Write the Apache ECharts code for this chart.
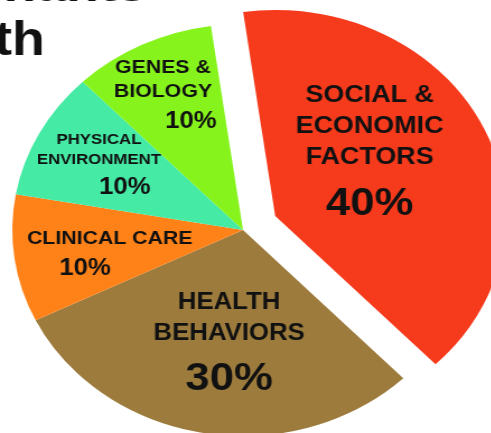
<!DOCTYPE html>
<html>
<head>
<meta charset="utf-8">
<script src="https://cdn.jsdelivr.net/npm/echarts@6/dist/echarts.min.js"></script>
<style>
  html, body { margin: 0; padding: 0; background: #fff; overflow: hidden; }
  #wrap { width: 491px; height: 433px; overflow: hidden; }
  /* the source picture is a pie stretched sideways */
  #main { width: 491px; height: 433px; transform: scaleX(1.12); transform-origin: 243px 0; }
</style>
</head>
<body>
<div id="wrap"><div id="main"></div></div>
<script>
// data
const names = ['SOCIAL &\nECONOMIC\nFACTORS', 'HEALTH\nBEHAVIORS', 'CLINICAL CARE', 'PHYSICAL\nENVIRONMENT', 'GENES &\nBIOLOGY']
const values = [40, 30, 10, 10, 10]
const colors = ['#f63a1c', '#9c7b3c', '#ff8219', '#45eaa5', '#86f41c']
const titleLines = ['Determinants', 'of Health']

// label styling per slice
const labelStyle = [
  { nameSize: 24, pctSize: 39, lh: 31, dx: -11, dy: -21, pad: [18, 0, 0, 0] },
  { nameSize: 23, pctSize: 39, lh: 31, dx: 6, dy: 6, pad: [15, 0, 0, 0] },
  { nameSize: 19, pctSize: 23, lh: 30, dx: -14, dy: 9, pad: [0, 44, 0, 0] },
  { nameSize: 15, pctSize: 23, lh: 20, dx: -35, dy: -16, pad: [6, 0, 0, 46] },
  { nameSize: 19, pctSize: 23, lh: 24, dx: -25, dy: -40, pad: [6, 0, 0, 50] }
]

const myChart = echarts.init(document.getElementById('main'))

const font = '"Liberation Sans", Arial'

const option = {
  animation: false,
  graphic: [
    {
      type: 'text',
      right: 334,
      top: -36,
      style: { text: titleLines[0], font: 'bold 48px ' + font, fill: '#111' }
    },
    {
      type: 'text',
      right: 425,
      top: 18,
      style: { text: titleLines[1], font: 'bold 48px ' + font, fill: '#111' }
    }
  ],
  series: [
    {
      type: 'pie',
      center: [243, 230],
      radius: 206,
      startAngle: 98,
      clockwise: true,
      selectedMode: 'single',
      selectedOffset: 32,
      emphasis: { disabled: true },
      itemStyle: { borderWidth: 0 },
      label: {
        show: true,
        position: 'inside'
      },
      labelLine: { show: false },
      labelLayout: function (params) {
        const s = labelStyle[params.dataIndex]
        return { dx: s.dx, dy: s.dy }
      },
      data: values.map(function (v, i) {
        const s = labelStyle[i]
        return {
          name: names[i],
          value: v,
          selected: i === 0,
          itemStyle: { color: colors[i] },
          label: {
            formatter: function (p) {
              const lines = p.name.split('\n').map(function (l) { return '{n|' + l + '}' })
              return lines.join('\n') + '\n{p|' + p.value + '%}'
            },
            rich: {
              n: {
                fontFamily: font,
                fontWeight: 'bold',
                fontSize: s.nameSize,
                lineHeight: s.lh,
                color: '#111'
              },
              p: {
                fontFamily: font,
                fontWeight: 'bold',
                fontSize: s.pctSize,
                lineHeight: s.pctSize + 6,
                padding: s.pad,
                color: '#111'
              }
            }
          }
        }
      })
    }
  ]
}

myChart.setOption(option)
</script>
</body>
</html>
